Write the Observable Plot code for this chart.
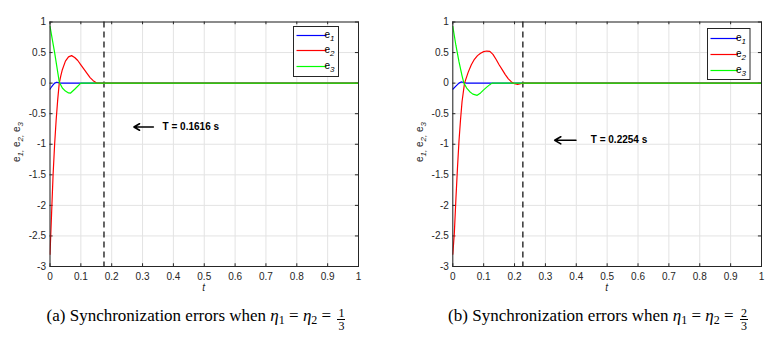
<!DOCTYPE html>
<html>
<head>
<meta charset="utf-8">
<script src="https://cdn.jsdelivr.net/npm/d3@7"></script>
<script src="https://cdn.jsdelivr.net/npm/@observablehq/plot@0.6"></script>
<style>
  html, body { margin: 0; padding: 0; background: #fff; }
  #wrap { position: relative; width: 776px; height: 337px; overflow: hidden; }
  .panel { position: absolute; top: 0; width: 388px; height: 300px; }
  .cap { position: absolute; top: 306px; width: 388px; text-align: center;
         font-family: "Liberation Serif", "Times New Roman", serif; font-size: 17px; color: #000; white-space: nowrap; }
  .cap i { font-style: italic; }
  .cap sub { font-size: 12px; vertical-align: -3px; }
  .frac { display: inline-block; vertical-align: -9px; text-align: center; font-size: 12px; line-height: 12px; margin-left: 2px; }
  .frac span { display: block; padding: 0 1px; }
  .frac span.num { border-bottom: 1px solid #000; }
</style>
</head>
<body>
<div id="wrap">
  <div class="panel" id="pA" style="left:0px"></div>
  <div class="panel" id="pB" style="left:388px"></div>
  <div class="cap" style="left:2px">(a) Synchronization errors when <i>η</i><sub>1</sub> = <i>η</i><sub>2</sub> = <span class="frac"><span class="num">1</span><span>3</span></span></div>
  <div class="cap" style="left:404px">(b) Synchronization errors when <i>η</i><sub>1</sub> = <i>η</i><sub>2</sub> = <span class="frac"><span class="num">2</span><span>3</span></span></div>
</div>
<script>
// ---- shared ticks / series ----
const xTicks = [0, 0.1, 0.2, 0.3, 0.4, 0.5, 0.6, 0.7, 0.8, 0.9, 1];
const yTicks = [-3, -2.5, -2, -1.5, -1, -0.5, 0, 0.5, 1];
const seriesNames = ["1", "2", "3"];
const seriesColors = ["#0000ff", "#ff0000", "#00ff00"];

// ---- panel (a): eta = 1/3 ----
const tA1 = [0, 0.005, 0.01, 0.015, 0.022, 0.03, 0.035, 1];
const eA1 = [-0.1, -0.06, -0.03, 0, 0.015, 0.005, 0, 0];
const tA2 = [0, 0.005, 0.01, 0.015, 0.02, 0.025, 0.03, 0.035, 0.04, 0.05, 0.06, 0.07, 0.08, 0.09, 0.1, 0.11, 0.12, 0.13, 0.14, 0.15, 0.155, 1];
const eA2 = [-2.8, -2.15, -1.5, -1.0, -0.6, -0.27, 0, 0.12, 0.22, 0.36, 0.43, 0.45, 0.42, 0.37, 0.3, 0.23, 0.16, 0.09, 0.04, 0.005, 0, 0];
const tA3 = [0, 0.015, 0.03, 0.04, 0.05, 0.06, 0.066, 0.08, 0.1, 1];
const eA3 = [0.93, 0.5, 0.02, -0.08, -0.13, -0.16, -0.165, -0.1, 0, 0];
const settleA = 0.175;
const labelA = "T = 0.1616 s";
const arrowA = {x1: 0.335, x2: 0.272, y: -0.718, text: 0.365};

// ---- panel (b): eta = 2/3 ----
const tB1 = [0, 0.01, 0.02, 0.027, 0.035, 0.045, 1];
const eB1 = [-0.1, -0.05, 0.0, 0.02, 0.01, 0, 0];
const tB2 = [0, 0.005, 0.01, 0.015, 0.02, 0.025, 0.03, 0.038, 0.05, 0.06, 0.07, 0.08, 0.09, 0.1, 0.11, 0.12, 0.13, 0.14, 0.15, 0.16, 0.17, 0.18, 0.19, 0.2, 0.21, 0.22, 0.226, 1];
const eB2 = [-2.8, -2.45, -1.9, -1.4, -0.95, -0.6, -0.3, 0, 0.18, 0.3, 0.39, 0.45, 0.49, 0.515, 0.525, 0.52, 0.47, 0.39, 0.3, 0.22, 0.14, 0.07, 0.02, -0.01, -0.02, -0.01, 0, 0];
const tB3 = [0, 0.01, 0.02, 0.03, 0.036, 0.045, 0.055, 0.065, 0.079, 0.09, 0.1, 0.11, 0.12, 0.127, 1];
const eB3 = [0.93, 0.62, 0.35, 0.12, 0, -0.08, -0.14, -0.18, -0.2, -0.16, -0.11, -0.065, -0.025, 0, 0];
const settleB = 0.227;
const labelB = "T = 0.2254 s";
const arrowB = {x1: 0.399, x2: 0.330, y: -0.935, text: 0.447};

function rows(t, v) { return t.map((x, i) => ({t: x, v: v[i]})); }

function panel(el, cfg) {
  const W = 388, H = 300;
  const mt = 21.5, mb = 34;
  const series = [rows(cfg.t1, cfg.e1), rows(cfg.t2, cfg.e2), rows(cfg.t3, cfg.e3)];
  const fmt = d => String(d);
  const plot = Plot.plot({
    width: W, height: H,
    marginLeft: cfg.ml, marginRight: cfg.mr, marginTop: mt, marginBottom: mb,
    style: {background: "transparent", fontFamily: "'Liberation Sans', Arial, sans-serif", fontSize: "10px", color: "#262626", overflow: "visible"},
    x: {domain: [0, 1]},
    y: {domain: [-3, 1]},
    marks: [
      Plot.ruleX(xTicks, {stroke: "#e3e3e3", strokeWidth: 1}),
      Plot.ruleY(yTicks, {stroke: "#e3e3e3", strokeWidth: 1}),
      Plot.ruleX(xTicks, {y1: -3, y2: -2.955, stroke: "#262626"}),
      Plot.ruleX(xTicks, {y1: 1, y2: 0.955, stroke: "#262626"}),
      Plot.ruleY(yTicks, {x1: 0, x2: 0.01, stroke: "#262626"}),
      Plot.ruleY(yTicks, {x1: 1, x2: 0.99, stroke: "#262626"}),
      Plot.axisX({ticks: xTicks, tickSize: 0, tickPadding: 6, tickFormat: fmt, label: null}),
      Plot.axisY({ticks: yTicks, tickSize: 0, tickPadding: 4, tickFormat: fmt, label: null}),
      Plot.ruleX([cfg.settle], {stroke: "#000", strokeWidth: 1.2, strokeDasharray: "6,4"}),
      ...series.map((s, i) => Plot.line(s, {x: "t", y: "v", stroke: seriesColors[i], strokeWidth: 1.2, clip: true})),
      Plot.arrow([cfg.arrow], {x1: "x1", x2: "x2", y1: "y", y2: "y", stroke: "#000", strokeWidth: 1.6, headLength: 8}),
      Plot.text([cfg.arrow], {x: "text", y: "y", text: () => cfg.label, textAnchor: "start", fontSize: 10, fontWeight: "bold", fill: "#000"}),
      Plot.frame({stroke: "#262626", strokeWidth: 1})
    ]
  });
  el.appendChild(plot);
  const svg = d3.select(plot);
  // y label with subscripts
  const yl = svg.append("text")
    .attr("transform", `translate(${cfg.ylx},142) rotate(-90)`)
    .attr("text-anchor", "middle")
    .attr("font-size", 10)
    .attr("font-family", "'Liberation Sans', Arial, sans-serif")
    .attr("fill", "#262626");
  seriesNames.forEach((n, i) => {
    yl.append("tspan").attr("dy", i === 0 ? 0 : -3).text("e");
    yl.append("tspan").attr("dy", 3).attr("font-size", 8).attr("font-style", "italic").text(n + (i < 2 ? "," : ""));
    if (i < 2) yl.append("tspan").text(" ");
  });
  // x label
  svg.append("text")
    .attr("x", cfg.ml + (W - cfg.ml - cfg.mr) / 2).attr("y", 291)
    .attr("text-anchor", "middle").attr("font-style", "italic")
    .attr("font-size", 10).attr("fill", "#262626")
    .attr("font-family", "'Liberation Sans', Arial, sans-serif").text("t");
  // legend
  const L = cfg.legend;
  const g = svg.append("g");
  g.append("rect").attr("x", L.x).attr("y", L.y).attr("width", L.w).attr("height", L.h)
    .attr("fill", "#fff").attr("stroke", "#262626").attr("stroke-width", 1);
  seriesNames.forEach((n, i) => {
    const yy = L.y + L.rows[i];
    g.append("line").attr("x1", L.x + 3).attr("x2", L.x + 3 + L.len).attr("y1", yy).attr("y2", yy)
      .attr("stroke", seriesColors[i]).attr("stroke-width", 1.2);
    const tx = g.append("text").attr("x", L.x + 6 + L.len).attr("y", yy + 2)
      .attr("font-size", 10).attr("fill", "#000").attr("font-family", "'Liberation Sans', Arial, sans-serif");
    tx.append("tspan").text("e");
    tx.append("tspan").attr("dy", 3).attr("font-size", 8).attr("font-style", "italic").text(n);
  });
}

panel(document.getElementById("pA"), {
  t1: tA1, e1: eA1, t2: tA2, e2: eA2, t3: tA3, e3: eA3,
  settle: settleA, label: labelA, arrow: arrowA,
  ml: 49.5, mr: 30, ylx: 20,
  legend: {x: 293.5, y: 26.5, w: 45, h: 50, len: 30, rows: [9, 24, 40]}
});
panel(document.getElementById("pB"), {
  t1: tB1, e1: eB1, t2: tB2, e2: eB2, t3: tB3, e3: eB3,
  settle: settleB, label: labelB, arrow: arrowB,
  ml: 64.3, mr: 15, ylx: 35,
  legend: {x: 319.5, y: 28.5, w: 42.5, h: 51, len: 27.5, rows: [10, 26, 42]}
});
</script>
</body>
</html>
